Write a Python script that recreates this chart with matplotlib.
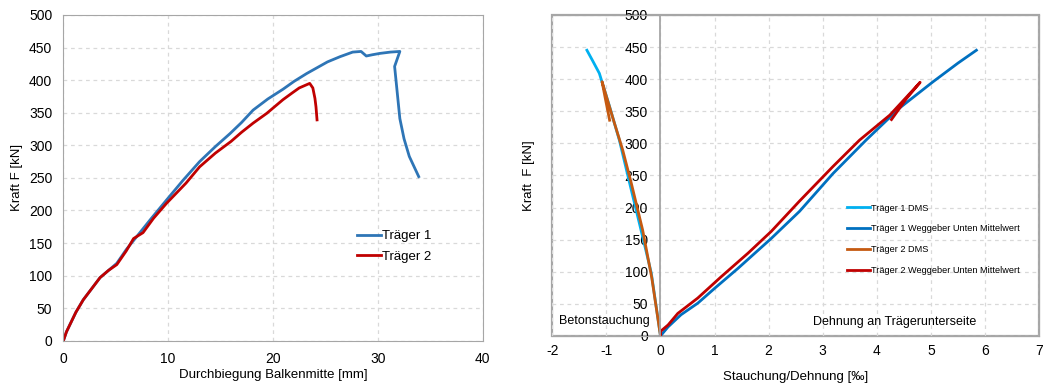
import numpy as np
import matplotlib
matplotlib.use('Agg')
from matplotlib import pyplot as plt
from matplotlib import rcParams
rcParams['font.family'] = ['Liberation Sans', 'DejaVu Sans']
rcParams['font.size'] = 9
rcParams['axes.unicode_minus'] = False

# left: Kraft over Durchbiegung
t1_x = [0, 0.3, 0.63, 1.2, 1.9, 2.7, 3.5, 4.3, 5.1, 6.0, 7.0, 8.4, 9.84, 11.4, 13.0, 14.5, 15.9, 17.0,
        18.1, 19.5, 20.95, 22.0, 23.2, 24.2, 25.2, 26.4, 27.6, 28.4, 28.9, 29.5, 30.2, 31.2, 32.1,
        31.6, 32.1, 32.5, 33.0, 33.9]
t1_y = [0, 14, 25, 44, 63, 80, 97, 108, 119, 140, 160, 188, 216, 246, 275, 298, 318, 335,
        354, 371, 386, 398, 410, 419, 428, 436, 443, 444, 437, 439, 441, 443, 444,
        421, 341, 310, 283, 252]
t2_x = [0, 0.3, 0.63, 1.2, 1.9, 2.7, 3.5, 4.3, 5.1, 6.0, 6.7, 7.6, 8.6, 9.84, 11.7, 13.0, 14.5,
        16.0, 17.0, 18.1, 19.4, 20.95, 21.8, 22.5, 23.5, 23.8, 24.0, 24.1, 24.2]
t2_y = [0, 14, 25, 44, 63, 80, 97, 108, 117, 138, 157, 166, 188, 211, 242, 267, 288,
        306, 320, 334, 349, 370, 380, 388, 395, 388, 372, 359, 339]

# right: Kraft over Stauchung/Dehnung
dms1_x = [0, -0.17, -0.36, -0.57, -0.76, -0.94, -1.13, -1.25, -1.36]
dms1_y = [0, 98, 165, 238, 305, 357, 409, 428, 445]
dms2_x = [0, -0.16, -0.33, -0.54, -0.70, -0.85, -1.0, -1.08, -1.02, -0.94]
dms2_y = [0, 90, 165, 238, 290, 331, 373, 396, 370, 336]
weg1_x = [0, 0.14, 0.38, 0.69, 1.0, 1.43, 2.05, 2.57, 3.19, 3.80, 4.42, 5.04, 5.5, 5.84]
weg1_y = [0, 14, 33, 51, 74, 105, 152, 194, 253, 305, 355, 396, 425, 445]
weg2_x = [0, 0, 0.14, 0.32, 0.69, 1.12, 1.62, 2.05, 2.57, 3.19, 3.68, 4.24, 4.8, 4.55, 4.27]
weg2_y = [0, 7, 17, 35, 59, 92, 129, 163, 210, 264, 305, 344, 395, 370, 337]

fig = plt.figure(figsize=(10.47, 3.83), dpi=100)
ax1 = fig.add_axes([0.0605, 0.110, 0.4005, 0.851])
ax2 = fig.add_axes([0.5275, 0.123, 0.4650, 0.838])

grid_kw = dict(color='#D9D9D9', linestyle=(0, (3, 3)), linewidth=0.9)

ax1.plot(t1_x, t1_y, color='#2E75B6', lw=2, label='Träger 1')
ax1.plot(t2_x, t2_y, color='#C00000', lw=2, label='Träger 2')
ax1.set_xlim(0, 40)
ax1.set_ylim(0, 500)
ax1.set_xticks(np.arange(0, 41, 10))
ax1.set_yticks(np.arange(0, 501, 50))
ax1.grid(True, **grid_kw)
ax1.set_axisbelow(True)
for sp in ax1.spines.values():
    sp.set_color('#A6A6A6')
ax1.tick_params(length=0, pad=8, labelsize=10)
ax1.set_xlabel('Durchbiegung Balkenmitte [mm]', fontsize=9.5, labelpad=2.5)
ax1.set_ylabel('Kraft F [kN]', fontsize=9.5, labelpad=4)
ax1.legend(loc='upper left', bbox_to_anchor=(0.673, 0.376), frameon=False, fontsize=9.5,
           handlelength=1.75, handletextpad=0.15, labelspacing=0.62)

ax2.plot(dms1_x, dms1_y, color='#00B0F0', lw=2, label='Träger 1 DMS')
ax2.plot(weg1_x, weg1_y, color='#0070C0', lw=2, label='Träger 1 Weggeber Unten Mittelwert')
ax2.plot(dms2_x, dms2_y, color='#C55A11', lw=2, label='Träger 2 DMS')
ax2.plot(weg2_x, weg2_y, color='#C00000', lw=2, label='Träger 2 Weggeber Unten Mittelwert')
ax2.set_xlim(-2, 7)
ax2.set_ylim(0, 500)
ax2.set_xticks(np.arange(-2, 8, 1))
ax2.set_yticks(np.arange(0, 501, 50))
ax2.grid(True, **grid_kw)
ax2.set_axisbelow(True)
for sp in ax2.spines.values():
    sp.set_color('#A6A6A6')
ax2.spines['left'].set_position(('data', 0))
ax2.spines['left'].set_linewidth(1.3)
ax2.patch.set_edgecolor('#A6A6A6')
ax2.patch.set_linewidth(1.6)
ax2.tick_params(axis='y', length=0, pad=9, labelsize=10)
ax2.tick_params(axis='x', length=0, pad=6, labelsize=10)
ax2.set_xlabel('Stauchung/Dehnung [‰]', fontsize=9.5, labelpad=9)
ax2.set_ylabel('Kraft  F [kN]', fontsize=9.5)
ax2.yaxis.set_label_coords(-0.036, 0.5)
ax2.legend(loc='upper left', bbox_to_anchor=(0.588, 0.438), frameon=False, fontsize=6.6,
           handlelength=2.5, handletextpad=0.15, labelspacing=1.3)
ax2.text(0.013, 0.047, 'Betonstauchung', transform=ax2.transAxes, fontsize=9,
         ha='left', va='center')
ax2.text(0.871, 0.044, 'Dehnung an Trägerunterseite', transform=ax2.transAxes, fontsize=9,
         ha='right', va='center')

plt.savefig('out.png', dpi=100)
